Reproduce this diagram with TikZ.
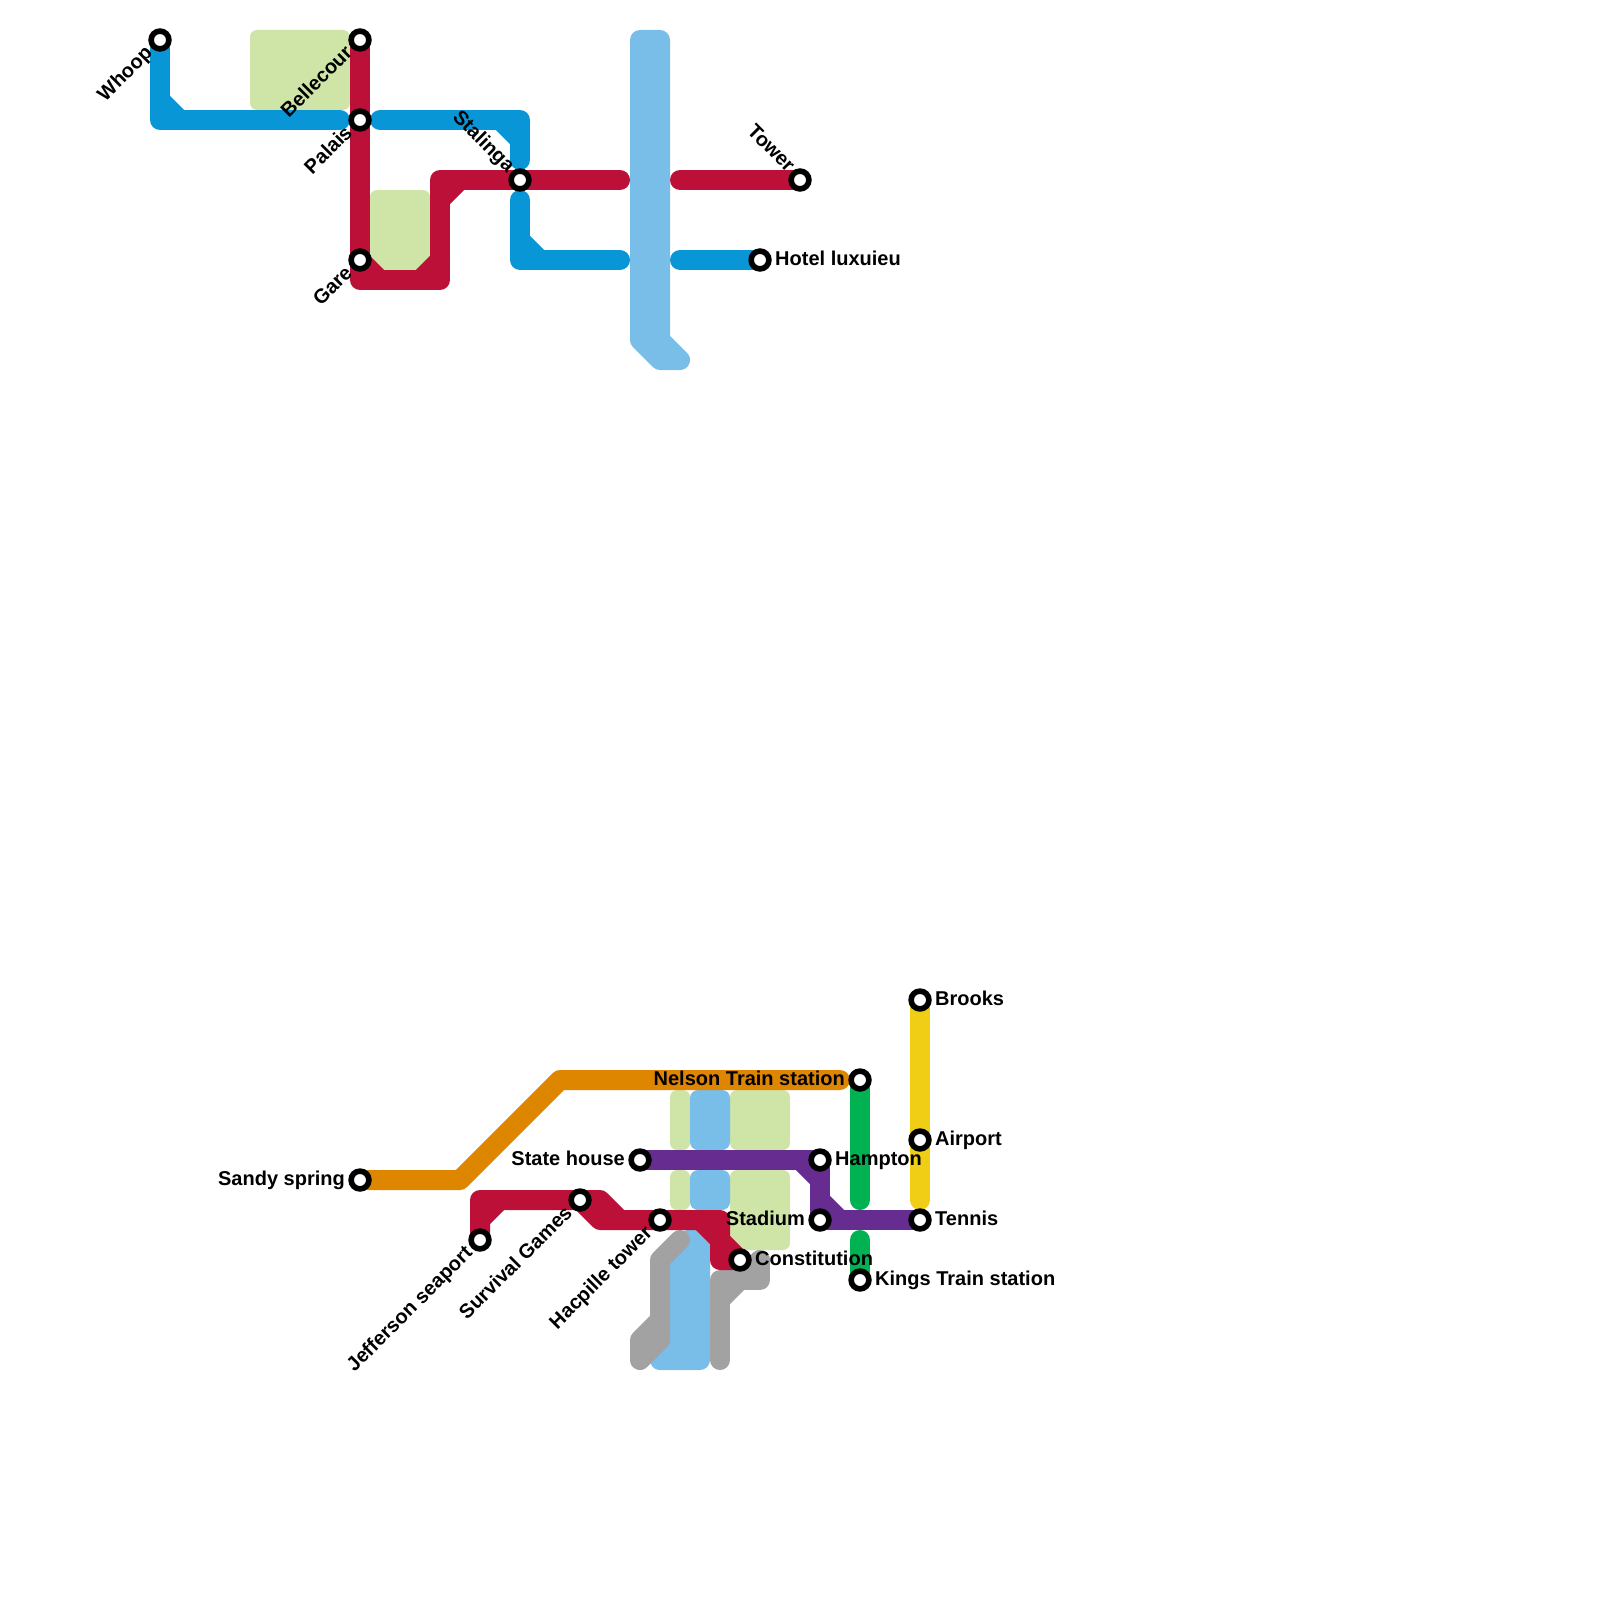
\documentclass[tikz,border=0pt]{standalone}
\usepackage{fontspec}
\setmainfont{Liberation Sans}
\definecolor{mred}{HTML}{BD1038}
\definecolor{mblue}{HTML}{0896D7}
\definecolor{msky}{HTML}{79BDE9}
\definecolor{mpark}{HTML}{CFE4A7}
\definecolor{morange}{HTML}{DF8600}
\definecolor{mpurple}{HTML}{662C90}
\definecolor{mgreen}{HTML}{00B251}
\definecolor{myellow}{HTML}{F0CE15}
\definecolor{mgrey}{HTML}{A2A2A2}
\tikzset{
  x=1pt,y=-1pt,
  metro/.style={line width=20pt,line cap=round,line join=round},
  skyblock/.style={fill=msky,rounded corners=8pt},
  parkblock/.style={fill=mpark,rounded corners=7pt},
  stn/.style={circle,draw=black,fill=white,line width=5.6pt,minimum size=17.8pt,inner sep=0pt,outer sep=0pt},
  lab/.style={inner sep=0pt,font=\fontsize{20}{24}\selectfont\bfseries},
  labR/.style={lab,anchor=base west,xshift=15pt,yshift=-5pt},
  labL/.style={lab,anchor=base east,xshift=-15pt,yshift=-5pt},
  labUp/.style={lab,anchor=base east,xshift=-6.5pt,yshift=-14pt,rotate=45},
  labDown/.style={lab,anchor=base east,xshift=-13pt,yshift=6.5pt,rotate=-45},
}
\begin{document}
\begin{tikzpicture}
\useasboundingbox (0,0) rectangle (1600,1600);
% station positions
\coordinate (pWhoop) at (160,40);
\coordinate (pBellecour) at (360,40);
\coordinate (pPalais) at (360,120);
\coordinate (pGare) at (360,260);
\coordinate (pStalinga) at (520,180);
\coordinate (pTower) at (800,180);
\coordinate (pHotel) at (760,260);
\coordinate (pSandy) at (360,1180);
\coordinate (pJefferson) at (480,1240);
\coordinate (pSurvival) at (580,1200);
\coordinate (pHacpille) at (660,1220);
\coordinate (pConstitution) at (740,1260);
\coordinate (pState) at (640,1160);
\coordinate (pHampton) at (820,1160);
\coordinate (pStadium) at (820,1220);
\coordinate (pTennis) at (920,1220);
\coordinate (pNelson) at (860,1080);
\coordinate (pKings) at (860,1280);
\coordinate (pBrooks) at (920,1000);
\coordinate (pAirport) at (920,1140);
% parks
\fill[parkblock] (250,30) rectangle (350,110);
\fill[parkblock] (370,190) rectangle (430,270);
\fill[parkblock] (670,1090) rectangle (690,1150);
\fill[parkblock] (670,1170) rectangle (690,1210);
\fill[parkblock] (730,1090) rectangle (790,1150);
\fill[parkblock] (730,1170) rectangle (790,1250);
% water
\filldraw[metro,draw=msky,fill=msky] (640,40) -- (660,40) -- (660,340) -- (680,360) -- (660,360) -- (640,340) -- cycle;
\fill[skyblock] (690,1090) rectangle (730,1150);
\fill[skyblock] (690,1170) rectangle (730,1210);
\filldraw[metro,draw=msky,fill=msky] (700,1230) -- (700,1360) -- (660,1360) -- (670,1350) -- (670,1260) -- cycle;
% grey
\draw[metro,mgrey] (680,1240) -- (660,1260) -- (660,1340) -- (640,1360) -- (640,1340) -- (660,1320);
\draw[metro,mgrey] (720,1360) -- (720,1280) -- (760,1280) -- (760,1260);
\draw[metro,mgrey] (720,1300) -- (740,1280) -- (760,1260);
% blue
\draw[metro,mblue] (pWhoop) -- (160,120) -- (340,120);
\draw[metro,mblue] (160,100) -- (180,120);
\draw[metro,mblue] (380,120) -- (520,120) -- (520,160);
\draw[metro,mblue] (500,120) -- (520,140);
\draw[metro,mblue] (520,200) -- (520,260) -- (620,260);
\draw[metro,mblue] (520,240) -- (540,260);
\draw[metro,mblue] (680,260) -- (pHotel);
% red
\draw[metro,mred] (pBellecour) -- (360,280) -- (440,280) -- (440,180) -- (620,180);
\draw[metro,mred] (360,260) -- (380,280);
\draw[metro,mred] (420,280) -- (440,260);
\draw[metro,mred] (440,200) -- (460,180);
\draw[metro,mred] (680,180) -- (pTower);
\draw[metro,mred] (pJefferson) -- (480,1200) -- (600,1200) -- (620,1220) -- (720,1220) -- (720,1260) -- (pConstitution);
\draw[metro,mred] (480,1220) -- (500,1200);
\draw[metro,mred] (pSurvival) -- (600,1220) -- (620,1220);
\draw[metro,mred] (700,1220) -- (720,1240) -- (pConstitution);
% orange
\draw[metro,morange] (pSandy) -- (460,1180) -- (560,1080) -- (840,1080);
% green
\draw[metro,mgreen] (pNelson) -- (860,1200);
\draw[metro,mgreen] (860,1240) -- (pKings);
% yellow
\draw[metro,myellow] (pBrooks) -- (920,1200);
% purple
\draw[metro,mpurple] (pState) -- (pHampton) -- (pStadium) -- (pTennis);
\draw[metro,mpurple] (800,1160) -- (820,1180);
\draw[metro,mpurple] (820,1200) -- (840,1220);
% stations
\node[stn] (sWhoop) at (pWhoop) {};
\node[stn] (sBellecour) at (pBellecour) {};
\node[stn] (sPalais) at (pPalais) {};
\node[stn] (sGare) at (pGare) {};
\node[stn] (sStalinga) at (pStalinga) {};
\node[stn] (sTower) at (pTower) {};
\node[stn] (sHotel) at (pHotel) {};
\node[stn] (sSandy) at (pSandy) {};
\node[stn] (sJefferson) at (pJefferson) {};
\node[stn] (sSurvival) at (pSurvival) {};
\node[stn] (sHacpille) at (pHacpille) {};
\node[stn] (sConstitution) at (pConstitution) {};
\node[stn] (sState) at (pState) {};
\node[stn] (sHampton) at (pHampton) {};
\node[stn] (sStadium) at (pStadium) {};
\node[stn] (sTennis) at (pTennis) {};
\node[stn] (sNelson) at (pNelson) {};
\node[stn] (sKings) at (pKings) {};
\node[stn] (sBrooks) at (pBrooks) {};
\node[stn] (sAirport) at (pAirport) {};
% labels
\node[labUp] (tWhoop) at (pWhoop) {Whoop};
\node[labUp] (tBellecour) at (pBellecour) {Bellecour};
\node[labUp] (tPalais) at (pPalais) {Palais};
\node[labUp] (tGare) at (pGare) {Gare};
\node[labDown] (tStalinga) at (pStalinga) {Stalinga};
\node[labDown] (tTower) at (pTower) {Tower};
\node[labR] (tHotel) at (pHotel) {Hotel luxuieu};
\node[labL] (tSandy) at (pSandy) {Sandy spring};
\node[labUp] (tJefferson) at (pJefferson) {Jefferson seaport};
\node[labUp] (tSurvival) at (pSurvival) {Survival Games};
\node[labUp] (tHacpille) at (pHacpille) {Hacpille tower};
\node[labR] (tConstitution) at (pConstitution) {Constitution};
\node[labL] (tState) at (pState) {State house};
\node[labR] (tHampton) at (pHampton) {Hampton};
\node[labL] (tStadium) at (pStadium) {Stadium};
\node[labR] (tTennis) at (pTennis) {Tennis};
\node[labL] (tNelson) at (pNelson) {Nelson Train station};
\node[labR] (tKings) at (pKings) {Kings Train station};
\node[labR] (tBrooks) at (pBrooks) {Brooks};
\node[labR] (tAirport) at (pAirport) {Airport};
\end{tikzpicture}
\end{document}
